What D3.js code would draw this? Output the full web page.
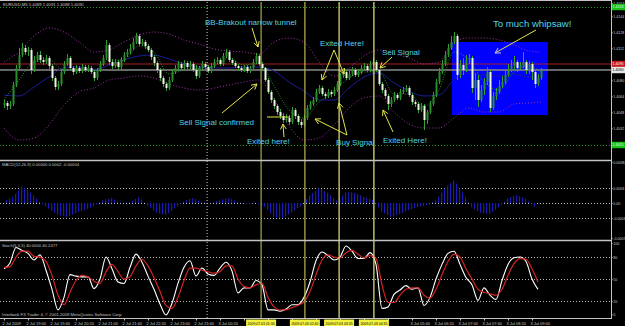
<!DOCTYPE html>
<html><head><meta charset="utf-8">
<script src="https://cdn.jsdelivr.net/npm/d3@7"></script>
<style>html,body{margin:0;padding:0;background:#000;overflow:hidden}svg{display:block}</style>
</head><body>
<svg id="chart" width="625" height="326"></svg>
<script>
// ---------------- DATA ----------------
const symbolHeader = "EURUSD,M5  1.4089 1.4091 1.4088 1.4090";
const openP = [1.4055,1.4057,1.4054,1.4056,1.4075,1.4092,1.4105,1.4112,1.4108,1.4110,
1.4090,1.4100,1.4105,1.4100,1.4098,1.4102,1.4094,1.4082,1.4073,1.4076,
1.4088,1.4096,1.4102,1.4092,1.4088,1.4092,1.4089,1.4093,1.4090,1.4092,
1.4088,1.4082,1.4090,1.4096,1.4102,1.4115,1.4098,1.4094,1.4098,1.4093,
1.4100,1.4105,1.4108,1.4112,1.4118,1.4124,1.4116,1.4118,1.4114,1.4110,
1.4103,1.4097,1.4090,1.4082,1.4076,1.4072,1.4080,1.4088,1.4092,1.4096,
1.4092,1.4097,1.4093,1.4096,1.4090,1.4084,1.4092,1.4096,1.4093,1.4089,
1.4094,1.4098,1.4100,1.4096,1.4104,1.4108,1.4100,1.4097,1.4094,1.4092,
1.4090,1.4093,1.4089,1.4092,1.4098,1.4104,1.4096,1.4092,1.4080,1.4068,
1.4060,1.4054,1.4048,1.4044,1.4040,1.4042,1.4038,1.4050,1.4044,1.4038,
1.4035,1.4042,1.4052,1.4056,1.4060,1.4068,1.4072,1.4066,1.4064,1.4068,
1.4066,1.4070,1.4076,1.4084,1.4088,1.4082,1.4086,1.4090,1.4085,1.4088,
1.4092,1.4094,1.4090,1.4096,1.4098,1.4090,1.4076,1.4070,1.4064,1.4056,
1.4060,1.4065,1.4062,1.4068,1.4070,1.4072,1.4065,1.4058,1.4056,1.4050,
1.4054,1.4040,1.4048,1.4056,1.4065,1.4078,1.4088,1.4096,1.4105,1.4112,
1.4118,1.4124,1.4085,1.4095,1.4090,1.4100,1.4102,1.4072,1.4080,1.4060,
1.4070,1.4078,1.4088,1.4052,1.4064,1.4068,1.4074,1.4078,1.4085,1.4090,
1.4094,1.4098,1.4092,1.4094,1.4098,1.4090,1.4096,1.4088,1.4076,1.4082];
const highP = [1.4060,1.4059,1.4059,1.4078,1.4095,1.4112,1.4117,1.4115,1.4113,1.4112,
1.4104,1.4108,1.4109,1.4103,1.4105,1.4104,1.4096,1.4084,1.4079,1.4090,
1.4099,1.4106,1.4104,1.4094,1.4095,1.4094,1.4096,1.4095,1.4095,1.4094,
1.4090,1.4092,1.4099,1.4105,1.4120,1.4117,1.4101,1.4101,1.4100,1.4103,
1.4108,1.4111,1.4116,1.4122,1.4127,1.4126,1.4121,1.4120,1.4116,1.4112,
1.4105,1.4099,1.4092,1.4084,1.4078,1.4083,1.4091,1.4095,1.4099,1.4098,
1.4100,1.4099,1.4099,1.4098,1.4095,1.4094,1.4099,1.4098,1.4095,1.4097,
1.4101,1.4103,1.4102,1.4107,1.4111,1.4110,1.4102,1.4099,1.4096,1.4094,
1.4095,1.4095,1.4094,1.4101,1.4107,1.4106,1.4098,1.4093,1.4082,1.4070,
1.4062,1.4056,1.4051,1.4047,1.4046,1.4045,1.4053,1.4052,1.4046,1.4041,
1.4045,1.4055,1.4059,1.4063,1.4071,1.4075,1.4074,1.4068,1.4071,1.4070,
1.4073,1.4079,1.4087,1.4092,1.4090,1.4089,1.4093,1.4092,1.4091,1.4095,
1.4097,1.4096,1.4099,1.4102,1.4100,1.4091,1.4078,1.4072,1.4066,1.4063,
1.4068,1.4067,1.4071,1.4073,1.4075,1.4074,1.4067,1.4060,1.4058,1.4057,
1.4056,1.4050,1.4059,1.4068,1.4081,1.4092,1.4100,1.4109,1.4116,1.4124,
1.4128,1.4126,1.4100,1.4102,1.4105,1.4106,1.4104,1.4087,1.4085,1.4075,
1.4082,1.4093,1.4090,1.4068,1.4072,1.4080,1.4084,1.4090,1.4096,1.4100,
1.4104,1.4100,1.4098,1.4108,1.4100,1.4099,1.4098,1.4090,1.4086,1.4092];
const lowP = [1.4052,1.4050,1.4051,1.4054,1.4073,1.4090,1.4103,1.4105,1.4104,1.4086,
1.4088,1.4098,1.4097,1.4095,1.4096,1.4091,1.4079,1.4070,1.4070,1.4074,
1.4086,1.4094,1.4090,1.4085,1.4086,1.4087,1.4087,1.4088,1.4088,1.4086,
1.4079,1.4080,1.4088,1.4094,1.4100,1.4095,1.4091,1.4092,1.4090,1.4091,
1.4098,1.4103,1.4106,1.4110,1.4116,1.4114,1.4114,1.4111,1.4108,1.4100,
1.4094,1.4087,1.4079,1.4073,1.4069,1.4070,1.4078,1.4086,1.4090,1.4090,
1.4090,1.4091,1.4091,1.4088,1.4081,1.4082,1.4090,1.4091,1.4087,1.4087,
1.4092,1.4096,1.4094,1.4094,1.4102,1.4098,1.4095,1.4092,1.4089,1.4088,
1.4088,1.4087,1.4087,1.4090,1.4096,1.4094,1.4090,1.4078,1.4066,1.4057,
1.4051,1.4045,1.4041,1.4037,1.4038,1.4035,1.4036,1.4041,1.4035,1.4032,
1.4033,1.4040,1.4050,1.4054,1.4058,1.4066,1.4064,1.4061,1.4062,1.4063,
1.4064,1.4068,1.4074,1.4082,1.4080,1.4080,1.4084,1.4083,1.4083,1.4086,
1.4090,1.4088,1.4088,1.4094,1.4088,1.4074,1.4067,1.4061,1.4050,1.4053,
1.4058,1.4060,1.4060,1.4066,1.4068,1.4063,1.4055,1.4053,1.4047,1.4048,
1.4030,1.4036,1.4046,1.4054,1.4063,1.4076,1.4086,1.4094,1.4103,1.4110,
1.4116,1.4080,1.4082,1.4085,1.4088,1.4096,1.4067,1.4060,1.4053,1.4058,
1.4065,1.4075,1.4048,1.4050,1.4060,1.4066,1.4072,1.4076,1.4083,1.4088,
1.4090,1.4088,1.4090,1.4092,1.4086,1.4086,1.4080,1.4072,1.4074,1.4080];
const closeP = [1.4057,1.4054,1.4056,1.4075,1.4092,1.4105,1.4112,1.4108,1.4110,1.4090,
1.4100,1.4105,1.4100,1.4098,1.4102,1.4094,1.4082,1.4073,1.4076,1.4088,
1.4096,1.4102,1.4092,1.4088,1.4092,1.4089,1.4093,1.4090,1.4092,1.4088,
1.4082,1.4090,1.4096,1.4102,1.4115,1.4098,1.4094,1.4098,1.4093,1.4100,
1.4105,1.4108,1.4112,1.4118,1.4124,1.4116,1.4118,1.4114,1.4110,1.4103,
1.4097,1.4090,1.4082,1.4076,1.4072,1.4080,1.4088,1.4092,1.4096,1.4092,
1.4097,1.4093,1.4096,1.4090,1.4084,1.4092,1.4096,1.4093,1.4089,1.4094,
1.4098,1.4100,1.4096,1.4104,1.4108,1.4100,1.4097,1.4094,1.4092,1.4090,
1.4093,1.4089,1.4092,1.4098,1.4104,1.4096,1.4092,1.4080,1.4068,1.4060,
1.4054,1.4048,1.4044,1.4040,1.4042,1.4038,1.4050,1.4044,1.4038,1.4035,
1.4042,1.4052,1.4056,1.4060,1.4068,1.4072,1.4066,1.4064,1.4068,1.4066,
1.4070,1.4076,1.4084,1.4088,1.4082,1.4086,1.4090,1.4085,1.4088,1.4092,
1.4094,1.4090,1.4096,1.4098,1.4090,1.4076,1.4070,1.4064,1.4056,1.4060,
1.4065,1.4062,1.4068,1.4070,1.4072,1.4065,1.4058,1.4056,1.4050,1.4054,
1.4040,1.4048,1.4056,1.4065,1.4078,1.4088,1.4096,1.4105,1.4112,1.4118,
1.4124,1.4085,1.4095,1.4090,1.4100,1.4102,1.4072,1.4080,1.4060,1.4070,
1.4078,1.4088,1.4052,1.4064,1.4068,1.4074,1.4078,1.4085,1.4090,1.4094,
1.4098,1.4092,1.4094,1.4098,1.4090,1.4096,1.4088,1.4076,1.4082,1.4090];

// Bollinger bands + fast MA, read every 5 bars (plus last bar)
const bandBars = [0,5,10,15,20,25,30,35,40,45,50,55,60,65,70,75,80,85,90,95,100,105,110,115,120,125,130,135,140,145,150,155,160,165,170,175,179];
const bbUpper = [1.4098,1.4108,1.4124,1.4132,1.4128,1.4118,1.4108,1.4110,1.4118,1.4125,1.4128,1.4126,1.4120,1.4116,1.4111,1.4109,1.4108,1.4106,1.4118,1.4122,1.4118,1.4098,1.4084,1.4092,1.4104,1.4110,1.4106,1.4102,1.4096,1.4098,1.4118,1.4122,1.4122,1.4120,1.4115,1.4109,1.4108];
const bbMiddle = [1.4065,1.4064,1.4073,1.4083,1.4092,1.4093,1.4090,1.4095,1.4100,1.4104,1.4105,1.4101,1.4096,1.4093,1.4092,1.4092,1.4093,1.4093,1.4089,1.4078,1.4069,1.4060,1.4060,1.4072,1.4083,1.4087,1.4077,1.4069,1.4064,1.4065,1.4080,1.4087,1.4085,1.4084,1.4086,1.4083,1.4083];
const bbLower = [1.4032,1.4020,1.4022,1.4035,1.4055,1.4068,1.4072,1.4080,1.4082,1.4084,1.4082,1.4076,1.4072,1.4070,1.4072,1.4075,1.4078,1.4080,1.4060,1.4034,1.4020,1.4022,1.4035,1.4052,1.4062,1.4064,1.4048,1.4036,1.4032,1.4032,1.4042,1.4052,1.4048,1.4048,1.4056,1.4057,1.4058];
const fastMA = [1.4060,1.4080,1.4098,1.4100,1.4090,1.4091,1.4089,1.4100,1.4100,1.4114,1.4108,1.4086,1.4090,1.4092,1.4094,1.4102,1.4095,1.4097,1.4074,1.4050,1.4042,1.4058,1.4068,1.4082,1.4088,1.4088,1.4066,1.4066,1.4054,1.4070,1.4108,1.4100,1.4078,1.4070,1.4088,1.4094,1.4088];

// MACD histogram, read every 3 bars
const macdBars = [0,3,6,9,12,15,18,21,24,27,30,33,36,39,42,45,48,51,54,57,60,63,66,69,72,75,78,81,84,87,90,93,96,99,102,105,108,111,114,117,120,123,126,129,132,135,138,141,144,147,150,153,156,159,162,165,168,171,174,177];
const macdHist = [0.00004,0.00012,0.00034,0.00020,0.00002,-0.00012,-0.00024,-0.00028,-0.00020,-0.00014,
-0.00006,0.00006,0.00010,0.00000,0.00002,0.00012,-0.00006,-0.00020,-0.00024,-0.00010,
0.00004,0.00010,0.00002,0.00000,0.00006,0.00010,0.00002,-0.00002,0.00000,-0.00008,
-0.00028,-0.00030,-0.00018,-0.00006,0.00016,0.00030,0.00020,0.00004,0.00022,0.00020,
0.00012,0.00006,-0.00018,-0.00028,-0.00022,-0.00014,-0.00008,-0.00004,0.00006,0.00030,
0.00046,0.00020,-0.00010,-0.00020,-0.00022,-0.00008,0.00010,0.00016,0.00008,-0.00008];

// Stochastic, read every 2 bars
const stochBars = d3.range(0, 180, 2);
const stochMain = [64,72,93,89,85,76,83,62,36,8, 25,56,54,53,53,37,50,80,64,46,
44,66,84,73,54,36,16,1,17,44, 66,75,54,65,57,55,65,73,61,31,
38,38,48,42,8,8,6,9,15,15, 25,46,75,87,82,76,80,95,88,78,
78,86,70,10,12,29,35,41,36,38, 14,25,50,70,85,88,70,52,42,21,
38,28,22,48,70,79,80,74,50,36];
const stochSignal = [66,67,80,88,88,81,80,74,55,28, 15,32,48,55,53,47,44,60,70,60,
50,53,68,77,68,52,33,14,10,25, 48,65,65,62,60,58,60,68,68,50,
40,38,42,44,25,12,8,8,11,14, 19,33,56,76,83,80,79,86,89,84,
79,82,78,42,18,18,28,36,38,38, 28,24,36,56,74,84,80,64,50,36,
32,30,28,36,55,71,78,77,64,46];

// Horizontal levels / objects
const dottedLevels = [1.4153, 1.4015];
const askLevel = 1.4096;
const bidLevel = 1.4090;
const daySeparatorBar = 67.7;
const signalBars = [85.7, 100.3, 111.7, 123.3];
const signalTimes = ["2009.07.03 01:30","2009.07.03 02:40","2009.07.03 03:35","2009.07.03 04:35"];
const whipsawBox = {fromBar:149.3, toBar:181.3, top:1.4118, bottom:1.4045};

// Axis ticks
const priceTicks = [1.4157,1.4144,1.4128,1.4112,1.4080,1.4064,1.4048,1.4032];
const macdTicks = [0.00082,0.0003,0,-0.0003,-0.00070];
const macdTickLabels = ["0.00082","0.0003","0.00","-0.0003","-0.0007"];
const stochTicks = [99,80,50,20,2];
const stochTickLabels = ["100","80","50","20","0"];
const stochLevels = [80,50,20];
const macdLevels = [0.0003,0,-0.0003];
const timeTickBars = [0,8,16,24,32,40,48,56,64,72,80,88,96,104,112,120,128,136,144,152,160,168,176];
const timeLabels = ["2 Jul 2009","2 Jul 19:00","2 Jul 19:40","2 Jul 20:20","2 Jul 21:00","2 Jul 21:40","2 Jul 22:20","2 Jul 23:00","2 Jul 23:40","3 Jul 00:20","3 Jul 01:00","3 Jul 01:40","3 Jul 02:20","3 Jul 03:00","3 Jul 03:40","3 Jul 04:20","3 Jul 05:00","3 Jul 05:40","3 Jul 06:20","3 Jul 07:00","3 Jul 07:40","3 Jul 08:20","3 Jul 09:00"];

// Annotations (anchored in bar / price coordinates)
const noteTexts = ["BB-Brakout narrow tunnel","Sell Signal confirmed","Exited here!","Exited Here!","Sell Signal","Buy Signal","Exited Here!","To much whipsaw!"];
const noteBars = [67, 58.3, 81, 105.3, 126, 110.7, 126.3, 163];
const notePrices = [1.4135, 1.4035, 1.4016, 1.4114, 1.4105, 1.4015, 1.4017, 1.4133];
// arrows: [fromBar, fromPrice, toBar, toPrice, hasHead]
const arrows = [
 [82.67,1.4132,84.67,1.4113,1],
 [72.67,1.4047,84.33,1.4076,1],
 [93.33,1.4023,93.0,1.4036,1],
 [110,1.4110,106,1.4080,1],
 [110,1.4110,113.33,1.4086,1],
 [114.33,1.4025,103.67,1.4041,1],
 [114.33,1.4025,111.67,1.4057,1],
 [129.33,1.4103,125.33,1.4092,1],
 [129.67,1.4028,126.33,1.4050,1],
 [87.67,1.4043,95.33,1.4043,0]
];
const whipsawArrow = [177.33,1.4130,163.67,1.4107];

// ---------------- DRAW ----------------
const W = 625, H = 326, AX = 611;
const svg = d3.select('#chart');
const FONT = "'Liberation Sans', Arial, sans-serif";
svg.append('rect').attr('width', W).attr('height', H).attr('fill', '#000');

const x = d3.scaleLinear().domain([0, closeP.length - 1]).range([4, 541]);
const yM = d3.scaleLinear().domain([1.4000, 1.4160]).range([160, 0]);
const yD = d3.scaleLinear().domain([-0.00076, 0.00084]).range([241, 161]);
const yS = d3.scaleLinear().domain([0, 100]).range([315.7, 242.4]);

const defs = svg.append('defs');
defs.append('clipPath').attr('id','clipMain').append('rect').attr('x',0).attr('y',2).attr('width',AX).attr('height',158);
defs.append('clipPath').attr('id','clipMacd').append('rect').attr('x',0).attr('y',161).attr('width',AX).attr('height',79);
defs.append('clipPath').attr('id','clipSto').append('rect').attr('x',0).attr('y',241).attr('width',AX).attr('height',77);
const pat = defs.append('pattern').attr('id','stripes').attr('patternUnits','userSpaceOnUse')
  .attr('x', x(0) - 1).attr('y', 0).attr('width', x(1) - x(0)).attr('height', 10);
pat.append('rect').attr('x',0).attr('y',0).attr('width',1.2).attr('height',10).attr('fill','#1c1cb4');

const main = svg.append('g').attr('clip-path','url(#clipMain)');

// whipsaw rectangle (background object)
main.append('rect')
  .attr('x', x(whipsawBox.fromBar)).attr('y', yM(whipsawBox.top))
  .attr('width', x(whipsawBox.toBar) - x(whipsawBox.fromBar))
  .attr('height', yM(whipsawBox.bottom) - yM(whipsawBox.top))
  .attr('fill', '#0000ff');

// dotted levels
main.selectAll('line.lvl').data(dottedLevels).enter().append('line')
  .attr('x1',0).attr('x2',AX).attr('y1',d=>Math.round(yM(d))+0.5).attr('y2',d=>Math.round(yM(d))+0.5)
  .attr('stroke','#1f9a1f').attr('stroke-dasharray','1,2');

// ask / bid lines
main.append('line').attr('x1',0).attr('x2',AX).attr('y1',yM(askLevel)).attr('y2',yM(askLevel))
  .attr('stroke','#a82020').attr('stroke-width',1.2);
main.append('line').attr('x1',0).attr('x2',AX).attr('y1',yM(bidLevel)).attr('y2',yM(bidLevel))
  .attr('stroke','#8a8a8a').attr('stroke-width',1.4);

// day separator (all panels)
svg.append('line').attr('x1',x(daySeparatorBar)).attr('x2',x(daySeparatorBar)).attr('y1',2).attr('y2',319)
  .attr('stroke','#cfcfcf').attr('stroke-dasharray','1,2');

// Bollinger bands
const bandLine = arr => d3.line().x((d,k)=>x(bandBars[k])).y(d=>yM(d)).curve(d3.curveMonotoneX)(arr);
main.append('path').attr('d', bandLine(bbUpper)).attr('fill','none').attr('stroke','#a032a8').attr('stroke-dasharray','1,2').attr('stroke-width',1);
main.append('path').attr('d', bandLine(bbLower)).attr('fill','none').attr('stroke','#a032a8').attr('stroke-dasharray','1,2').attr('stroke-width',1);
main.append('path').attr('d', bandLine(bbMiddle)).attr('fill','none').attr('stroke','#1c1c9a').attr('stroke-width',1);
main.append('path').attr('d', bandLine(fastMA)).attr('fill','none').attr('stroke','#2f9a2f').attr('stroke-dasharray','1,1.5').attr('stroke-width',0.9);

// candles
const bars = closeP.map((c,i)=>({i, o:openP[i], h:highP[i], l:lowP[i], c}));
const cg = main.append('g');
cg.selectAll('line.wick').data(bars).enter().append('line')
  .attr('x1',d=>Math.round(x(d.i))+0.5).attr('x2',d=>Math.round(x(d.i))+0.5)
  .attr('y1',d=>yM(d.h)).attr('y2',d=>yM(d.l))
  .attr('stroke','#33a033').attr('stroke-width',1);
cg.selectAll('rect.body').data(bars).enter().append('rect')
  .attr('x',d=>Math.round(x(d.i))-0.5).attr('width',2)
  .attr('y',d=>yM(Math.max(d.o,d.c)))
  .attr('height',d=>Math.max(1, Math.abs(yM(d.o)-yM(d.c))))
  .attr('fill',d=>d.c>=d.o ? '#2a8c2a' : '#eaf6e2');

// MACD
const macdG = svg.append('g').attr('clip-path','url(#clipMacd)');
macdG.selectAll('line.ml').data(macdLevels).enter().append('line')
  .attr('x1',0).attr('x2',AX).attr('y1',d=>Math.round(yD(d))+0.5).attr('y2',d=>Math.round(yD(d))+0.5)
  .attr('stroke','#bdbdbd').attr('stroke-dasharray','1,2');
macdG.append('path')
  .attr('d', d3.area().x((d,k)=>x(macdBars[k])).y0(yD(0)).y1(d=>yD(d))(macdHist))
  .attr('fill','url(#stripes)');

// Stochastic
const stoG = svg.append('g').attr('clip-path','url(#clipSto)');
stoG.selectAll('line.sl').data(stochLevels).enter().append('line')
  .attr('x1',0).attr('x2',AX).attr('y1',d=>Math.round(yS(d))+0.5).attr('y2',d=>Math.round(yS(d))+0.5)
  .attr('stroke','#bdbdbd').attr('stroke-dasharray','1,2');
const sLine = d3.line().x((d,k)=>x(stochBars[k])).y(d=>yS(d)).curve(d3.curveMonotoneX);
stoG.append('path').attr('d', sLine(stochMain)).attr('fill','none').attr('stroke','#ffffff').attr('stroke-width',1.1);
stoG.append('path').attr('d', sLine(stochSignal)).attr('fill','none').attr('stroke','#d42424').attr('stroke-width',1.2);

// yellow vertical signal lines
const vColors = ['#a9a748','#b9b752','#e6e47a','#ecea82'];
svg.selectAll('line.sig').data(signalBars).enter().append('line')
  .attr('x1',d=>x(d)).attr('x2',d=>x(d)).attr('y1',2).attr('y2',319)
  .attr('stroke',(d,k)=>vColors[k]).attr('stroke-width',1.2);

// annotations
const annG = svg.append('g');
annG.selectAll('text.note').data(noteTexts).enter().append('text')
  .attr('x',(d,k)=>x(noteBars[k])).attr('y',(d,k)=>yM(notePrices[k]))
  .attr('fill','#52d4e6').attr('font-family',FONT)
  .attr('font-size',(d,k)=> k===7 ? 9.6 : 8)
  .text(d=>d);

function drawArrow(g, a, lineColor, headColor, head){
  const x1=x(a[0]), y1=yM(a[1]), x2=x(a[2]), y2=yM(a[3]);
  g.append('line').attr('x1',x1).attr('y1',y1).attr('x2',x2).attr('y2',y2).attr('stroke',lineColor).attr('stroke-width',1);
  if(!head) return;
  const ang = Math.atan2(y1-y2, x1-x2), L = 6, sp = 0.5;
  [ang-sp, ang+sp].forEach(t=>{
    g.append('line').attr('x1',x2).attr('y1',y2).attr('x2',x2+L*Math.cos(t)).attr('y2',y2+L*Math.sin(t))
      .attr('stroke',headColor).attr('stroke-width',1);
  });
}
arrows.forEach(a=>drawArrow(annG, a, '#e4e44a', '#e4e44a', a[4]));
drawArrow(annG, whipsawArrow, '#e4e44a', '#c9c2f2', 1);

// panel frames
const frame = svg.append('g');
[[0.5],[160.5],[240.5],[318.5]].forEach(([yy],k)=>{
  frame.append('line').attr('x1',0).attr('x2',AX).attr('y1',yy).attr('y2',yy)
   .attr('stroke', '#c4c4c4').attr('stroke-width', (k===1||k===2)?1.6:1);
});
frame.append('line').attr('x1',AX+0.5).attr('x2',AX+0.5).attr('y1',0).attr('y2',319).attr('stroke','#c4c4c4');

// right axes
function styleAxis(g){
  g.select('.domain').remove();
  g.selectAll('line').attr('stroke','#c4c4c4');
  g.selectAll('text').attr('fill','#c8c8c8').attr('font-family',FONT).attr('font-size',3.6);
}
svg.append('g').attr('transform',`translate(${AX},0)`)
  .call(d3.axisRight(yM).tickValues(priceTicks).tickFormat(d3.format('.4f')).tickSize(1.5).tickPadding(0.8))
  .call(styleAxis);
svg.append('g').attr('transform',`translate(${AX},0)`)
  .call(d3.axisRight(yD).tickValues(macdTicks).tickFormat((d,k)=>macdTickLabels[k]).tickSize(1.5).tickPadding(0.8))
  .call(styleAxis);
svg.append('g').attr('transform',`translate(${AX},0)`)
  .call(d3.axisRight(yS).tickValues(stochTicks).tickFormat((d,k)=>stochTickLabels[k]).tickSize(1.5).tickPadding(0.8))
  .call(styleAxis);

// price boxes on axis
function priceBox(val, bg, fg){
  const yy = yM(val);
  svg.append('rect').attr('x',AX+1).attr('y',yy-3.2).attr('width',W-AX-1).attr('height',6.4).attr('fill',bg);
  svg.append('text').attr('x',AX+1.6).attr('y',yy+1.3).attr('fill',fg).attr('font-family',FONT).attr('font-size',3.6).text(val.toFixed(4));
}
dottedLevels.forEach(v=>priceBox(v,'#18c018','#eaffea'));
priceBox(askLevel,'#c81818','#ffffff');
priceBox(bidLevel,'#e6e6e6','#000000');

// bottom time axis
const tax = svg.append('g').attr('transform','translate(0,318.5)')
  .call(d3.axisBottom(x).tickValues(timeTickBars).tickFormat((d,k)=>timeLabels[k]).tickSize(2).tickPadding(1.2));
tax.select('.domain').remove();
tax.selectAll('line').attr('stroke','#c4c4c4');
tax.selectAll('text').attr('fill','#c8c8c8').attr('font-family',FONT).attr('font-size',4)
  .attr('text-anchor','start').attr('dx',-2);
// labels hidden under the yellow time boxes (as in the terminal)
tax.selectAll('.tick').each(function(d){
  const t = d3.select(this).select('text');
  const x0 = x(d) - 2, x1 = x0 + t.node().getComputedTextLength();
  const hidden = signalBars.some(b => x1 > x(b) - 15 && x0 < x(b) + 15);
  if (hidden) t.remove();
});

// yellow time boxes
const yb = svg.append('g');
signalBars.forEach((b,k)=>{
  yb.append('rect').attr('x',x(b)-15).attr('y',319.5).attr('width',30).attr('height',6.5).attr('fill','#f4f440');
  yb.append('text').attr('x',x(b)).attr('y',324.6).attr('text-anchor','middle').attr('fill','#000')
    .attr('font-family',FONT).attr('font-size',4).attr('textLength',27).attr('lengthAdjust','spacingAndGlyphs').text(signalTimes[k]);
});

// panel labels
const lab = (t,xx,yy)=>svg.append('text').attr('x',xx).attr('y',yy).attr('fill','#c0c0c0').attr('font-family',FONT).attr('font-size',4.2).text(t);
lab(symbolHeader, 3, 6);
lab('MACD(12,26,9) 0.00000 0.0002 -0.00004', 2, 166);
lab('Stoch(5,3,3) 40.0000 40.2477', 2, 246.5);
lab('Interbank FX Trader 4, \u00a9 2001-2009 MetaQuotes Software Corp.', 2, 316);
</script>
</body></html>
